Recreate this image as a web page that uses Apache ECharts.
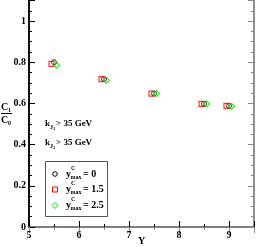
<!DOCTYPE html>
<html><head><meta charset="utf-8">
<script src="https://cdn.jsdelivr.net/npm/echarts@6/dist/echarts.min.js"></script>
<style>html,body{margin:0;padding:0;background:#fff}#c{width:256px;height:247px}</style>
</head><body><div id="c"></div>
<script>
// Data
const blackX = [5.5, 6.5, 7.5, 8.5, 9.0];
const blackY = [0.800, 0.718, 0.648, 0.598, 0.588];
const redX = [5.45, 6.45, 7.45, 8.45, 8.95];
const redY = [0.792, 0.718, 0.648, 0.598, 0.588];
const greenX = [5.55, 6.55, 7.55, 8.55, 9.05];
const greenY = [0.786, 0.712, 0.648, 0.598, 0.586];
const legendLabels = ['0', '1.5', '2.5'];
const cutText = '> 35 GeV';

const F = 'Liberation Serif';
const zip = (a, b) => a.map((v, i) => [v, b[i]]);
const isMult = (v, s) => Math.abs(v / s - Math.round(v / s)) < 1e-6;

function xa(pos, interval, len, color, labels) {
  return {
    type: 'value', min: 5, max: 9.5, interval: interval, position: pos,
    axisLine: { show: true, lineStyle: { color: color, width: 1.5 } },
    axisTick: { show: true, inside: true, length: len, lineStyle: { color: color, width: 1 } },
    axisLabel: labels ? {
      show: true, margin: 3, color: '#000', fontFamily: F, fontWeight: 'bold', fontSize: 10,
      showMaxLabel: false,
      formatter: v => isMult(v, 1) ? String(Math.round(v)) : ''
    } : { show: false },
    splitLine: { show: false }
  };
}
function ya(pos, interval, len, color, labels) {
  return {
    type: 'value', min: 0, max: 1.1, interval: interval, position: pos,
    axisLine: { show: true, lineStyle: { color: color, width: 1.5 } },
    axisTick: { show: true, inside: true, length: len, lineStyle: { color: color, width: 1 } },
    axisLabel: labels ? {
      show: true, margin: 3, color: '#000', fontFamily: F, fontWeight: 'bold', fontSize: 10,
      showMaxLabel: false,
      formatter: v => {
        if (!isMult(v, 0.2)) return '';
        const r = Math.round(v * 10) / 10;
        return (r === 0 || r === 1) ? String(r) : r.toFixed(1);
      }
    } : { show: false },
    splitLine: { show: false }
  };
}

function txt(x, y, t, size, color, extra) {
  return Object.assign({ type: 'text', x: x, y: y, style: {
    text: t, fontFamily: F, fontWeight: 'bold', fontSize: size, fill: color || '#000',
    textVerticalAlign: 'middle', verticalAlign: 'middle' } }, extra || {});
}

const graphics = [];
// y-axis title C1/C0
graphics.push(txt(1, 107, 'C', 10));
graphics.push(txt(8, 110, '1', 6));
graphics.push({ type: 'line', shape: { x1: 1, y1: 113.5, x2: 12, y2: 113.5 }, style: { stroke: '#000', lineWidth: 1 } });
graphics.push(txt(1, 120, 'C', 10));
graphics.push(txt(8, 123, '0', 6));
// x-axis title
graphics.push(txt(138, 241, 'Y', 10));
// cut annotations
[['1', 124], ['2', 143]].forEach(([n, y]) => {
  graphics.push(txt(45, y, 'k', 9));
  graphics.push(txt(50, y + 3, 'J', 6));
  graphics.push(txt(53, y + 5, n, 4.5));
  graphics.push(txt(56, y, cutText, 9));
});
// legend box
graphics.push({ type: 'rect', shape: { x: 45.5, y: 161.5, width: 62, height: 55 }, style: { fill: '#fff', stroke: '#555', lineWidth: 1 } });
const rows = [174, 189.5, 205.5];
graphics.push({ type: 'circle', shape: { cx: 55, cy: rows[0], r: 2.3 }, style: { fill: 'none', stroke: '#000', lineWidth: 1 } });
graphics.push({ type: 'rect', shape: { x: 52.5, y: rows[1] - 2.5, width: 5, height: 5 }, style: { fill: 'none', stroke: '#ff0000', lineWidth: 1 } });
graphics.push({ type: 'polygon', shape: { points: [[55, rows[2] - 3], [58, rows[2]], [55, rows[2] + 3], [52, rows[2]]] }, style: { fill: 'none', stroke: '#00dd00', lineWidth: 1 } });
rows.forEach((y, i) => {
  graphics.push(txt(66, y, 'y', 10));
  graphics.push(txt(71, y - 6, 'C', 6));
  graphics.push(txt(70.5, y + 3, 'max', 6));
  graphics.push(txt(83, y, '= ' + legendLabels[i], 10));
});

const chart = echarts.init(document.getElementById('c'), null, { renderer: 'canvas' });
chart.setOption({
  animation: false,
  backgroundColor: '#fff',
  grid: { left: 29, right: 2, top: 0.5, bottom: 20, containLabel: false },
  xAxis: [
    xa('bottom', 0.5, 3, '#000', true),
    xa('bottom', 1, 6, '#000', false),
    xa('top', 0.5, 3, '#888', false),
    xa('top', 1, 6, '#888', false)
  ],
  yAxis: [
    ya('left', 0.05, 3, '#000', true),
    ya('left', 0.2, 6, '#000', false),
    ya('right', 0.05, 3, '#888', false),
    ya('right', 0.2, 6, '#888', false)
  ],
  series: [
    { type: 'scatter', name: 'ymax=0', data: zip(blackX, blackY), symbol: 'circle', symbolSize: 5,
      itemStyle: { color: 'rgba(0,0,0,0)', borderColor: '#000', borderWidth: 1 }, z: 3 },
    { type: 'scatter', name: 'ymax=1.5', data: zip(redX, redY), symbol: 'rect', symbolSize: 5,
      itemStyle: { color: 'rgba(0,0,0,0)', borderColor: '#ff0000', borderWidth: 1.2 }, z: 4 },
    { type: 'scatter', name: 'ymax=2.5', data: zip(greenX, greenY), symbol: 'diamond', symbolSize: 6,
      itemStyle: { color: 'rgba(0,0,0,0)', borderColor: '#00dd00', borderWidth: 1.2 }, z: 5 }
  ],
  graphic: graphics
});
</script></body></html>
